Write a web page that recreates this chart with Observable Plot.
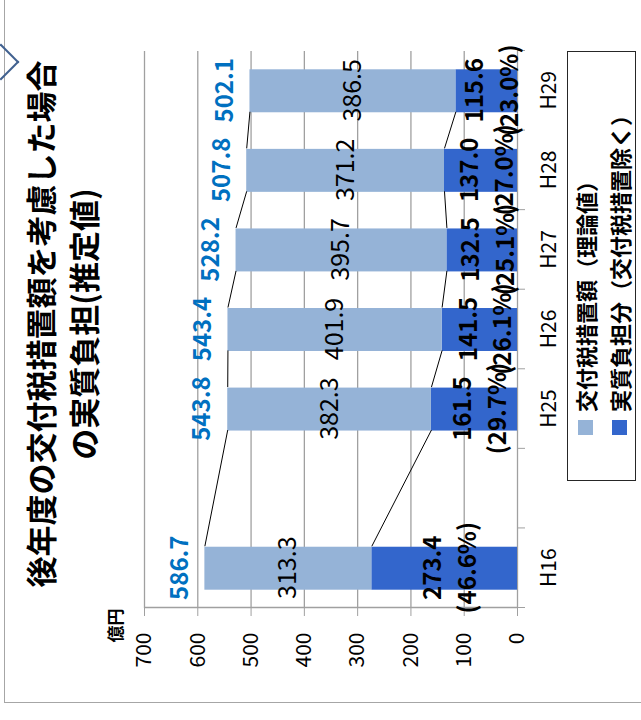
<!DOCTYPE html>
<html>
<head>
<meta charset="utf-8">
<script src="https://cdn.jsdelivr.net/npm/d3@7"></script>
<script src="https://cdn.jsdelivr.net/npm/@observablehq/plot@0.6"></script>
<style>
  html, body { margin: 0; padding: 0; overflow: hidden; background: #fff; }
  #stage {
    position: absolute; left: 0; top: 0; width: 720px; height: 641px;
    overflow: hidden; background: #fff;
    transform-origin: 0 0; transform: translate(0, 720px) rotate(-90deg);
    font-family: "Noto Sans CJK JP", sans-serif;
  }
  #frame { position: absolute; left: 17px; top: 4px; width: 900px; height: 900px; border: 1.5px solid #a6a6a6; }
  #chev { position: absolute; left: 645px; top: -12px; width: 24px; height: 24px;
    border-right: 2.5px solid #41618f; border-bottom: 2.5px solid #41618f; transform: rotate(45deg); }
  #title { position: absolute; left: 96px; top: 18px; width: 600px; text-align: center;
    font-size: 31px; font-weight: bold; line-height: 43px; white-space: nowrap; color: #000; }
  #chart { position: absolute; left: 0; top: 0; }
  #legend { position: absolute; left: 239px; top: 567px; width: 430px; height: 69px;
    border: 1.5px solid #262626; box-sizing: border-box; background: #fff; }
  .item { position: absolute; left: 45px; display: flex; align-items: center; white-space: nowrap;
    font-size: 22px; font-weight: bold; }
  .sw { width: 15px; height: 15px; margin-right: 8px; }
</style>
</head>
<body>
<div id="stage">
  <div id="frame"></div>
  <div id="chev"></div>
  <div id="chart"></div>
  <div id="title">後年度の交付税措置額を考慮した場合<br>の実質負担(推定値)</div>
  <div id="legend"></div>
</div>
<script>
const categories = ["H16", "", "H25", "H26", "H27", "H28", "H29"];
const kofuzei    = [313.3, null, 382.3, 401.9, 395.7, 371.2, 386.5];
const jisshitsu  = [273.4, null, 161.5, 141.5, 132.5, 137.0, 115.6];
const totals     = [586.7, null, 543.8, 543.4, 528.2, 507.8, 502.1];
const shares     = ["46.6%", null, "29.7%", "26.1%", "25.1%", "27.0%", "23.0%"];
const yTicks     = [0, 100, 200, 300, 400, 500, 600, 700];
const seriesNames = ["交付税措置額（理論値）", "実質負担分（交付税措置除く）"];
const colors = ["#95b3d7", "#3366cc"];

const half = 0.27;
const rows = categories.map((c, i) => ({
  i, c, kofu: kofuzei[i], dark: jisshitsu[i], total: totals[i], share: shares[i]
})).filter(d => d.kofu != null);

const links = [];
for (let k = 0; k < rows.length - 1; k++) {
  const a = rows[k], b = rows[k + 1];
  links.push({x1: a.i + 0.5 + half, x2: b.i + 0.5 - half, y1: a.dark, y2: b.dark});
  links.push({x1: a.i + 0.5 + half, x2: b.i + 0.5 - half, y1: a.dark + a.kofu, y2: b.dark + b.kofu});
}

const grey = "#a0a0a0";
const chart = Plot.plot({
  width: 720, height: 641,
  marginLeft: 112, marginRight: 51, marginTop: 144, marginBottom: 124,
  style: {fontFamily: "Noto Sans CJK JP, sans-serif", background: "transparent", overflow: "visible"},
  x: {type: "linear", domain: [0, categories.length]},
  y: {domain: [0, 700]},
  marks: [
    Plot.gridY({ticks: yTicks.slice(1), stroke: grey, strokeOpacity: 1, strokeWidth: 1.3}),
    Plot.axisY({ticks: yTicks, tickSize: 8, tickPadding: 17, fontSize: 21, stroke: grey, fill: "black", label: null}),
    Plot.axisX({ticks: d3.range(0, categories.length + 1), tickSize: 8, tickFormat: () => "", stroke: grey, label: null}),
    Plot.axisX({ticks: categories.map((c, i) => i + 0.5), tickSize: 0, tickPadding: 24, fontSize: 21,
      tickFormat: v => categories[Math.floor(v)], fill: "black", label: null}),
    Plot.ruleX([0], {stroke: grey, strokeWidth: 1.3}),
    Plot.ruleY([0], {stroke: grey, strokeWidth: 1.3}),
    Plot.rectY(rows, {x1: d => d.i + 0.5 - half, x2: d => d.i + 0.5 + half, y1: 0, y2: d => d.dark, fill: colors[1]}),
    Plot.rectY(rows, {x1: d => d.i + 0.5 - half, x2: d => d.i + 0.5 + half, y1: d => d.dark, y2: d => d.dark + d.kofu, fill: colors[0]}),
    Plot.link(links, {x1: "x1", y1: "y1", x2: "x2", y2: "y2", stroke: "black", strokeWidth: 1}),
    Plot.text(rows, {x: d => d.i + 0.5, y: d => d.dark + d.kofu / 2, text: d => d.kofu.toFixed(1),
      fontSize: 25, fill: "black"}),
    Plot.text(rows, {x: d => d.i + 0.5, y: d => d.dark / 2, text: d => `${d.dark.toFixed(1)}\n(${d.share})`,
      fontSize: 24, fontWeight: "bold", fill: "black", lineHeight: 1.45, dy: 3}),
    Plot.text(rows, {x: d => d.i + 0.5, y: d => d.total, text: d => d.total.toFixed(1),
      fontSize: 24, fontWeight: "bold", fill: "#0070c0", dy: -25}),
    Plot.text(["億円"], {frameAnchor: "top-left", dx: -18, dy: -35, textAnchor: "middle",
      fontSize: 17, fontWeight: "bold", fill: "black"})
  ]
});
document.getElementById("chart").appendChild(chart);

const legend = document.getElementById("legend");
seriesNames.forEach((name, k) => {
  const it = document.createElement("div");
  it.className = "item";
  it.style.top = (k === 0 ? 0 : 34) + "px";
  it.style.height = "34px";
  const sw = document.createElement("span");
  sw.className = "sw";
  sw.style.background = colors[k];
  const tx = document.createElement("span");
  tx.textContent = name;
  it.appendChild(sw); it.appendChild(tx);
  legend.appendChild(it);
});
</script>
</body>
</html>
